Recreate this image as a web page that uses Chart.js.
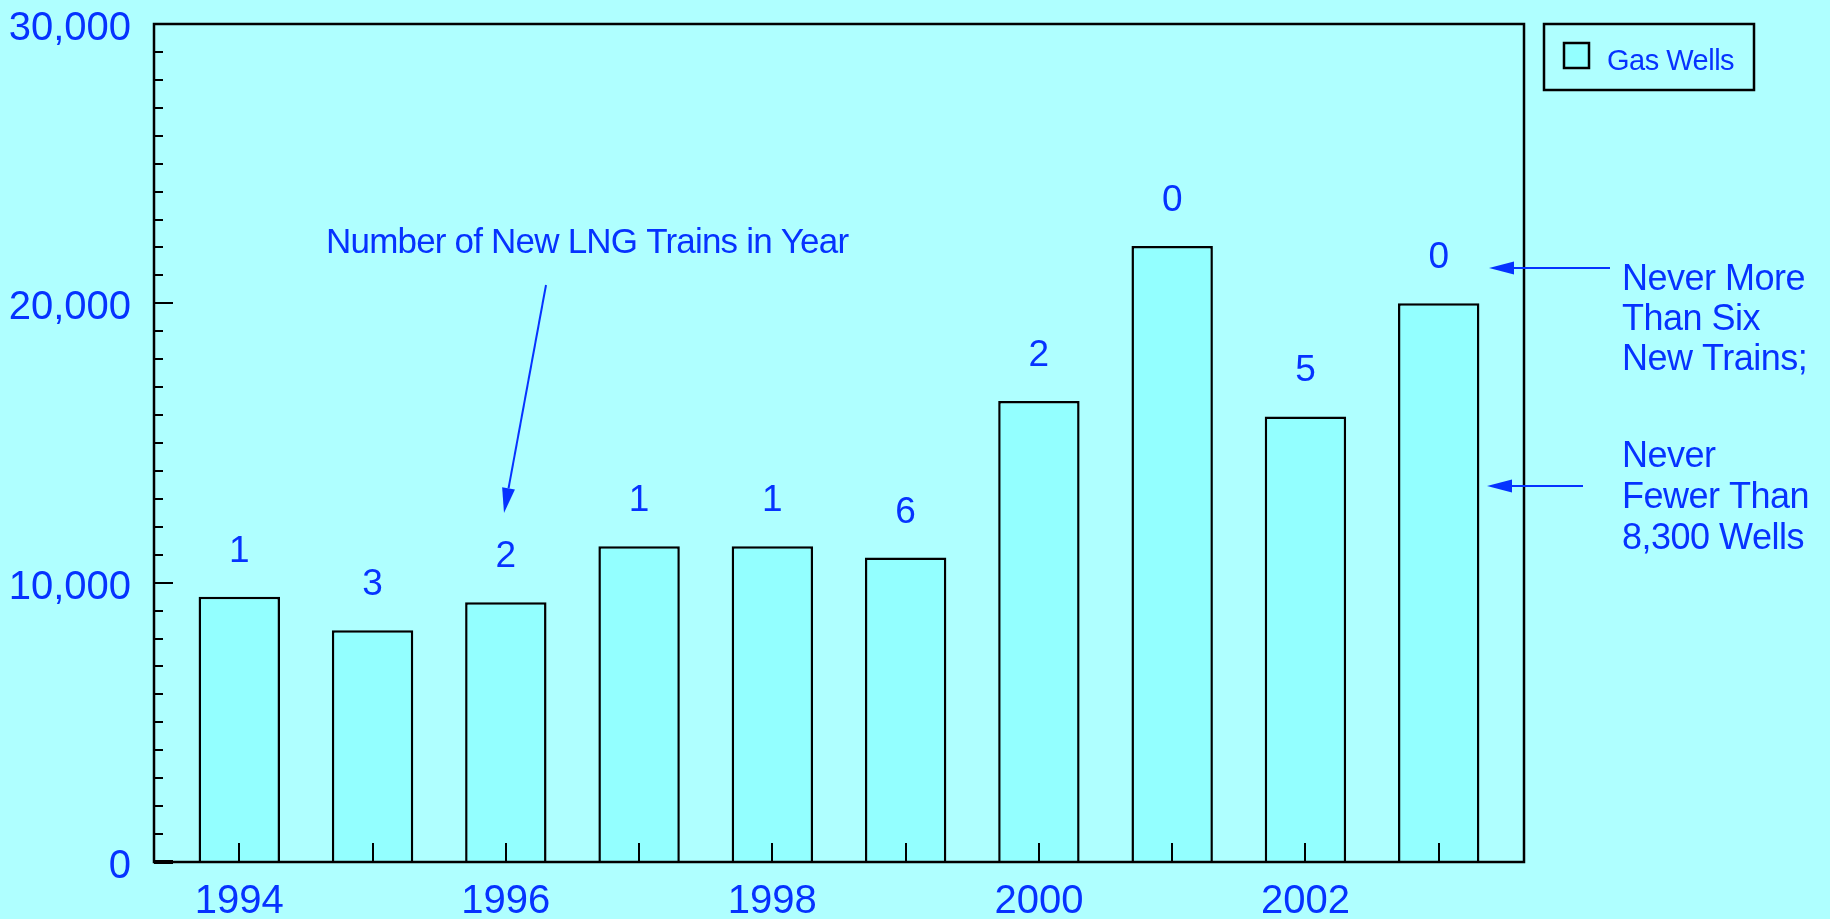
<!DOCTYPE html>
<html>
<head>
<meta charset="utf-8">
<title>Gas Wells and New LNG Trains</title>
<script src="https://cdn.jsdelivr.net/npm/chart.js@4/dist/chart.umd.min.js"></script>
<style>
  html, body { margin: 0; padding: 0; background: #afffff; overflow: hidden; }
  canvas { display: block; }
</style>
</head>
<body>
<canvas id="wells" width="1830" height="919"></canvas>
<script>
// wells drilled per year, and LNG trains started in the same year
const years = [1994, 1995, 1996, 1997, 1998, 1999, 2000, 2001, 2002, 2003];
const gasWells = [9500, 8300, 9300, 11300, 11300, 10900, 16500, 22050, 15950, 20000];
const newTrains = [1, 3, 2, 1, 1, 6, 2, 0, 5, 0];
const yearLabels = ['1994', '1996', '1998', '2000', '2002'];
const wellLabels = ['0', '10,000', '20,000', '30,000'];

const BLUE = '#0633ff';
const BG = '#afffff';
const BAR = '#93ffff';
const FONT = "'Liberation Sans', Arial, sans-serif";

// draws a straight line with a filled arrow head at (x2, y2)
function arrow(ctx, x1, y1, x2, y2) {
  const ang = Math.atan2(y2 - y1, x2 - x1);
  const len = 25, half = 6.5;
  const bx = x2 - len * Math.cos(ang), by = y2 - len * Math.sin(ang);
  ctx.beginPath();
  ctx.moveTo(x1, y1);
  ctx.lineTo(bx, by);
  ctx.stroke();
  ctx.beginPath();
  ctx.moveTo(x2, y2);
  ctx.lineTo(bx + half * Math.sin(ang), by - half * Math.cos(ang));
  ctx.lineTo(bx - half * Math.sin(ang), by + half * Math.cos(ang));
  ctx.closePath();
  ctx.fill();
}

function line(ctx, x1, y1, x2, y2) {
  ctx.beginPath();
  ctx.moveTo(x1, y1);
  ctx.lineTo(x2, y2);
  ctx.stroke();
}

const decor = {
  id: 'decor',
  beforeDraw(chart) {
    const ctx = chart.ctx;
    ctx.save();
    ctx.fillStyle = BG;
    ctx.fillRect(0, 0, chart.width, chart.height);
    ctx.restore();
  },
  afterDatasetsDraw(chart) {
    const ctx = chart.ctx;
    const a = chart.chartArea;
    const x = chart.scales.x, y = chart.scales.y;
    ctx.save();

    // frame round the plot
    ctx.strokeStyle = '#000';
    ctx.lineWidth = 2.5;
    ctx.strokeRect(a.left, a.top, a.right - a.left, a.bottom - a.top);

    // inside ticks on the well axis: every 1,000, longer every 10,000
    for (let v = 0; v < 30000; v += 1000) {
      const py = Math.round(y.getPixelForValue(v));
      const len = v % 10000 === 0 ? 19 : 9;
      ctx.lineWidth = v === 0 ? 4 : 2;
      line(ctx, a.left, py, a.left + len, py);
    }
    // year ticks, standing up from the base line
    ctx.lineWidth = 2;
    years.forEach(yr => {
      const px = Math.round(x.getPixelForValue(yr));
      line(ctx, px, a.bottom, px, a.bottom - 19);
    });

    // train counts over each bar
    ctx.fillStyle = BLUE;
    ctx.font = '37px ' + FONT;
    ctx.textAlign = 'center';
    ctx.textBaseline = 'alphabetic';
    chart.getDatasetMeta(0).data.forEach((bar, i) => {
      ctx.fillText(String(newTrains[i]), bar.x, bar.y - 35);
    });

    // legend box
    const lx = a.right + 20, ly = a.top;
    ctx.strokeStyle = '#000';
    ctx.lineWidth = 2.5;
    ctx.strokeRect(lx, ly, 210, 66);
    ctx.fillStyle = BAR;
    ctx.fillRect(lx + 20, ly + 19, 25, 25);
    ctx.strokeRect(lx + 20, ly + 19, 25, 25);
    ctx.fillStyle = BLUE;
    ctx.textAlign = 'left';
    ctx.font = '29px ' + FONT;
    ctx.letterSpacing = '-0.5px';
    ctx.fillText(chart.data.datasets[0].label, lx + 63, ly + 46);

    // note pointing at the train counts
    ctx.font = '35px ' + FONT;
    ctx.letterSpacing = '-0.8px';
    ctx.fillText('Number of New LNG Trains in Year', 326, 253);
    ctx.strokeStyle = BLUE;
    ctx.lineWidth = 2;
    arrow(ctx, 546, 285, 504, 513);

    // notes on the right
    ctx.font = '36px ' + FONT;
    ctx.letterSpacing = '-0.5px';
    const tx = 1622;
    ['Never More', 'Than Six', 'New Trains;'].forEach((t, i) => ctx.fillText(t, tx, 290 + i * 40));
    ['Never', 'Fewer Than', '8,300 Wells'].forEach((t, i) => ctx.fillText(t, tx, 467 + i * 41));
    arrow(ctx, 1610, 268, 1489, 268);
    arrow(ctx, 1583, 486, 1487, 486);

    ctx.restore();
  }
};

// keep the axis labels from pushing the plot edges inward
function fixSize(prop, size) {
  return s => {
    s[prop] = size;
    s.paddingTop = s.paddingBottom = s.paddingLeft = s.paddingRight = 0;
  };
}

const ctx = document.getElementById('wells').getContext('2d');
new Chart(ctx, {
  type: 'bar',
  data: {
    datasets: [{
      label: 'Gas Wells',
      data: years.map((yr, i) => ({ x: yr, y: gasWells[i] })),
      backgroundColor: BAR,
      borderColor: '#000',
      borderWidth: 2.5,
      barPercentage: 0.611,
      categoryPercentage: 1.0
    }]
  },
  options: {
    responsive: false,
    animation: false,
    layout: { padding: { left: 0, right: 306, top: 24, bottom: 0 } },
    plugins: {
      legend: { display: false },
      tooltip: { enabled: false }
    },
    scales: {
      x: {
        type: 'linear',
        offset: false,
        min: 1993.36,
        max: 2003.64,
        afterFit: fixSize('height', 57),
        grid: { display: false, drawTicks: false },
        border: { display: false },
        ticks: {
          stepSize: 1,
          includeBounds: false,
          autoSkip: false,
          maxRotation: 0,
          padding: 16,
          color: BLUE,
          font: { family: FONT, size: 40 },
          callback: v => yearLabels.includes(String(v)) ? String(v) : ''
        }
      },
      y: {
        min: 0,
        max: 30000,
        afterFit: fixSize('width', 154),
        grid: { display: false, drawTicks: false },
        border: { display: false },
        ticks: {
          stepSize: 10000,
          padding: 23,
          labelOffset: 5,
          color: BLUE,
          font: { family: FONT, size: 40 },
          callback: v => wellLabels[v / 10000]
        }
      }
    }
  },
  plugins: [decor]
});
</script>
</body>
</html>
